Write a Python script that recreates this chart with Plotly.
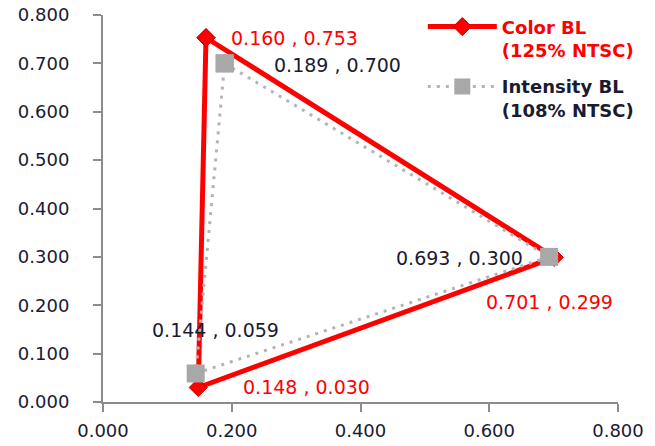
import plotly.graph_objects as go

# CIE x,y chromaticity coordinates (closed triangles: first point repeated)
color_x = [0.160, 0.701, 0.148, 0.160]
color_y = [0.753, 0.299, 0.030, 0.753]
inten_x = [0.189, 0.693, 0.144, 0.189]
inten_y = [0.700, 0.300, 0.059, 0.700]

tick_vals = [0.0, 0.1, 0.2, 0.3, 0.4, 0.5, 0.6, 0.7, 0.8]
x_tick_vals = [0.0, 0.2, 0.4, 0.6, 0.8]

RED = "#ff0000"
GRAY = "#b4b4b4"
DARK = "#1a1a33"
FONT = "DejaVu Sans"

fig = go.Figure()
fig.add_trace(go.Scatter(
    x=color_x, y=color_y, mode="lines+markers",
    name="<b><span style='color:#ff0000'>Color BL</span></b><br><b><span style='color:#ff0000'>(125% NTSC)</span></b>",
    line=dict(color=RED, width=5),
    marker=dict(symbol="diamond", size=14, color=RED, line=dict(color="#c00000", width=1)),
    legendrank=1, legendgroup="a",
))
fig.add_trace(go.Scatter(
    x=inten_x, y=inten_y, mode="lines+markers",
    name="<b>Intensity BL</b><br><b>(108% NTSC)</b>",
    line=dict(color=GRAY, width=3, dash="3px,6px"),
    marker=dict(symbol="square", size=18, color="#a8a8a8"),
    legendrank=2, legendgroup="b",
))

# Data labels (offsets in pixels relative to each point)
labels = [
    (color_x[0], color_y[0], RED, "left", 23, 0),
    (inten_x[0], inten_y[0], DARK, "left", 47, -2),
    (inten_x[1], inten_y[1], DARK, "right", -24, -1),
    (color_x[1], color_y[1], RED, "left", -70, -45),
    (inten_x[2], inten_y[2], DARK, "left", -46, 43),
    (color_x[2], color_y[2], RED, "left", 43, 0),
]
for x, y, c, anc, dx, dy in labels:
    fig.add_annotation(
        x=x, y=y, xref="x", yref="y", text=f"{x:.3f} , {y:.3f}",
        showarrow=False, xanchor=anc, yanchor="middle", xshift=dx, yshift=dy,
        font=dict(family=FONT, size=19, color=c),
    )

axis_common = dict(
    showgrid=False, zeroline=False, showline=True, linecolor="#8c8c8c", linewidth=2,
    ticks="outside", ticklen=8, tickwidth=2, tickcolor="#8c8c8c",
    tickformat=".3f", tickfont=dict(family=FONT, size=18, color=DARK),
    range=[0, 0.8], fixedrange=True, automargin=False, ticklabeloverflow="allow",
)
fig.update_xaxes(**axis_common, tickvals=x_tick_vals, ticklabelstandoff=3)
fig.update_yaxes(**axis_common, tickvals=tick_vals, ticklabelstandoff=20)

fig.update_layout(
    template="none",
    width=655, height=446,
    margin=dict(l=103, r=37, t=15, b=44, autoexpand=False),
    plot_bgcolor="white", paper_bgcolor="white",
    showlegend=True,
    legend=dict(
        x=0.621, y=1.017, xanchor="left", yanchor="top", valign="top",
        font=dict(family=FONT, size=18, color=DARK),
        bgcolor="rgba(0,0,0,0)", itemwidth=69, tracegroupgap=10,
    ),
)

# remove the browser's default 8px body margin so the figure fills the window
fig.write_html(
    "out.html",
    config={"displayModeBar": False},
    post_script="document.body.style.margin='0';document.body.style.overflow='hidden';",
)
